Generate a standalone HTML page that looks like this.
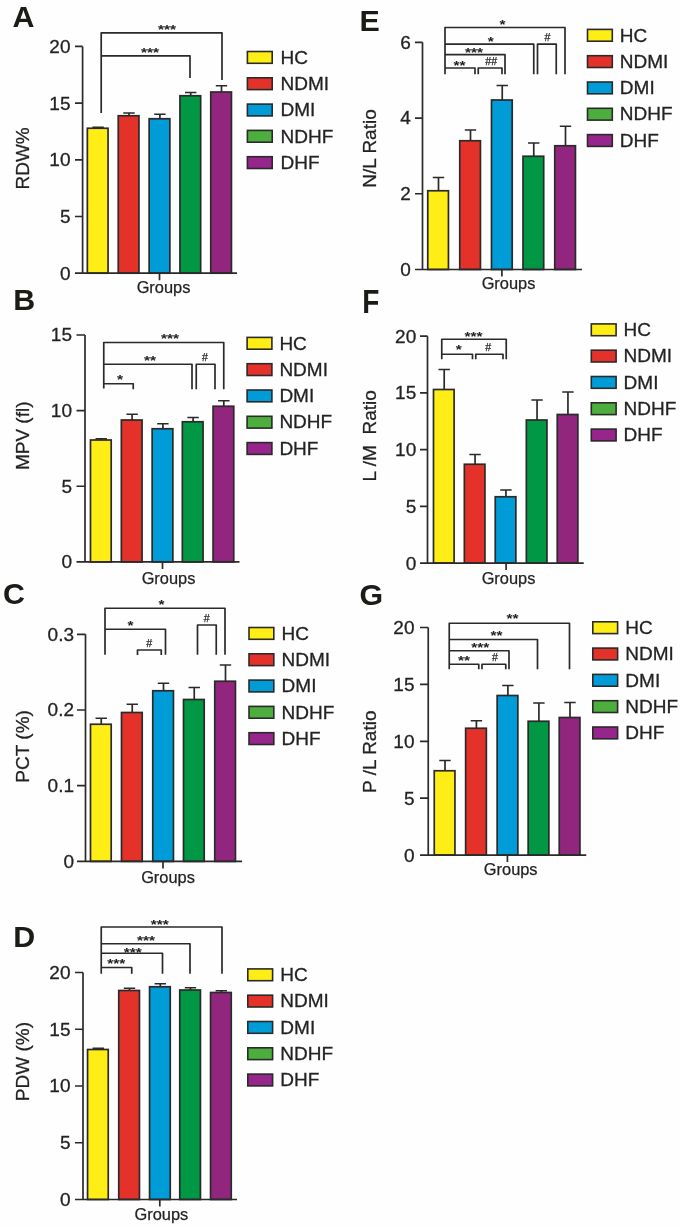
<!DOCTYPE html>
<html><head><meta charset="utf-8"><title>Figure</title>
<style>
html,body{margin:0;padding:0;background:#fefefe}
svg{display:block}
text{font-family:"Liberation Sans",Arial,sans-serif;fill:#222120}
.L{font-weight:bold;font-size:29.5px;fill:#1b1a19}
.t{font-size:19.0px;stroke:#2B2A29;stroke-width:.3px}
.g{font-size:16.4px;stroke:#2B2A29;stroke-width:.25px}
.s{font-size:15.5px;font-weight:bold}
.h{font-size:10.6px;stroke:#2B2A29;stroke-width:0.25px}
.k{fill:none;stroke:#2B2A29;stroke-width:1.7;stroke-linejoin:round}
</style></head><body>
<svg width="681" height="1228" viewBox="0 0 681 1228">
<defs><filter id="soft" x="0" y="0" width="681" height="1228" filterUnits="userSpaceOnUse"><feGaussianBlur stdDeviation="0.5"/></filter></defs>
<rect width="681" height="1228" fill="#fefefe"/>
<g filter="url(#soft)">
<!-- panel A -->
<text class="L" transform="translate(12.5 27.2) scale(1.03 1)">A</text>
<path class="k" d="M98.1 128.25V127.4M92.4 127.4H103.8"/>
<rect x="87.35" y="128.25" width="20.7" height="144.95" fill="#FFED14" stroke="#2B2A29" stroke-width="1.7"/>
<path class="k" d="M129 115.75V113M123.3 113H134.7"/>
<rect x="118.25" y="115.75" width="20.7" height="157.45" fill="#E4322B" stroke="#2B2A29" stroke-width="1.7"/>
<path class="k" d="M159.9 118.75V114.25M154.2 114.25H165.6"/>
<rect x="149.15" y="118.75" width="20.7" height="154.45" fill="#009CD8" stroke="#2B2A29" stroke-width="1.7"/>
<path class="k" d="M190.7 95.75V92.5M185 92.5H196.4"/>
<rect x="179.95" y="95.75" width="20.7" height="177.45" fill="#009845" stroke="#2B2A29" stroke-width="1.7"/>
<path class="k" d="M221.5 92V85.75M215.8 85.75H227.2"/>
<rect x="210.75" y="92" width="20.7" height="181.2" fill="#92287F" stroke="#2B2A29" stroke-width="1.7"/>
<text class="t" text-anchor="end" x="70.5" y="279.6">0</text>
<text class="t" text-anchor="end" x="70.5" y="222.9">5</text>
<text class="t" text-anchor="end" x="70.5" y="166.2">10</text>
<text class="t" text-anchor="end" x="70.5" y="109.5">15</text>
<text class="t" text-anchor="end" x="70.5" y="52.8">20</text>
<path class="k" d="M82.6 46.4V273.2M75 273.2H237M75 216.5H82.6M75 159.8H82.6M75 103.1H82.6M75 46.4H82.6M159.5 273.2V280.2"/>
<text class="g" text-anchor="middle" x="163.5" y="293">Groups</text>
<text class="t" text-anchor="middle" transform="translate(29.3 158.4) rotate(-90)">RDW%</text>
<path class="k" d="M101.2 113.1V32.8H222V80.1"/>
<text class="s" text-anchor="middle" transform="translate(167 27) scale(1 .86)" y="7.7">***</text>
<path class="k" d="M101.2 55.8H190V78.1"/>
<text class="s" text-anchor="middle" transform="translate(150 50) scale(1 .86)" y="7.7">***</text>
<rect x="247.4" y="51.5" width="24.8" height="11.8" fill="#FFED14" stroke="#2B2A29" stroke-width="1.6"/>
<text class="t" x="280.5" y="63.6">HC</text>
<rect x="247.4" y="77.8" width="24.8" height="11.8" fill="#E4322B" stroke="#2B2A29" stroke-width="1.6"/>
<text class="t" x="280.5" y="89.9">NDMI</text>
<rect x="247.4" y="104.1" width="24.8" height="11.8" fill="#009CD8" stroke="#2B2A29" stroke-width="1.6"/>
<text class="t" x="280.5" y="116.2">DMI</text>
<rect x="247.4" y="130.4" width="24.8" height="11.8" fill="#4CAE3C" stroke="#2B2A29" stroke-width="1.6"/>
<text class="t" x="280.5" y="142.5">NDHF</text>
<rect x="247.4" y="156.7" width="24.8" height="11.8" fill="#97278C" stroke="#2B2A29" stroke-width="1.6"/>
<text class="t" x="280.5" y="168.8">DHF</text>
<!-- panel B -->
<text class="L" transform="translate(13.3 309.8) scale(1.03 1)">B</text>
<path class="k" d="M101.25 440V438.75M95.55 438.75H106.95"/>
<rect x="90.5" y="440" width="20.7" height="121.9" fill="#FFED14" stroke="#2B2A29" stroke-width="1.7"/>
<path class="k" d="M132.1 420V414.25M126.4 414.25H137.8"/>
<rect x="121.35" y="420" width="20.7" height="141.9" fill="#E4322B" stroke="#2B2A29" stroke-width="1.7"/>
<path class="k" d="M162.9 428.75V423.75M157.2 423.75H168.6"/>
<rect x="152.15" y="428.75" width="20.7" height="133.15" fill="#009CD8" stroke="#2B2A29" stroke-width="1.7"/>
<path class="k" d="M193.1 421.75V417.5M187.4 417.5H198.8"/>
<rect x="182.35" y="421.75" width="20.7" height="140.15" fill="#009845" stroke="#2B2A29" stroke-width="1.7"/>
<path class="k" d="M223.8 406.25V400.75M218.1 400.75H229.5"/>
<rect x="213.05" y="406.25" width="20.7" height="155.65" fill="#92287F" stroke="#2B2A29" stroke-width="1.7"/>
<text class="t" text-anchor="end" x="72" y="568.3">0</text>
<text class="t" text-anchor="end" x="72" y="492.67">5</text>
<text class="t" text-anchor="end" x="72" y="417.03">10</text>
<text class="t" text-anchor="end" x="72" y="341.4">15</text>
<path class="k" d="M85 335V561.9M76.5 561.9H239.5M76.5 486.27H85M76.5 410.63H85M76.5 335H85M162.5 561.9V568.9"/>
<text class="g" text-anchor="middle" x="168.5" y="584">Groups</text>
<text class="t" text-anchor="middle" transform="translate(29.1 435.8) rotate(-90)">MPV (fl)</text>
<path class="k" d="M103.75 388.6V342.5H223.75V389.35"/>
<text class="s" text-anchor="middle" transform="translate(170 336.5) scale(1 .86)" y="7.7">***</text>
<path class="k" d="M103.75 364.25H192V389.35"/>
<text class="s" text-anchor="middle" transform="translate(150 358) scale(1 .86)" y="7.7">**</text>
<path class="k" d="M103.75 383.75H133.25V389.35"/>
<text class="s" text-anchor="middle" transform="translate(120 377.5) scale(1 .86)" y="7.7">*</text>
<path class="k" d="M196.25 389.35V364.25H215V389.35"/>
<text class="h" text-anchor="middle" x="205" y="360.8">#</text>
<rect x="247.1" y="337.4" width="24.8" height="11.8" fill="#FFED14" stroke="#2B2A29" stroke-width="1.6"/>
<text class="t" x="279.4" y="349.5">HC</text>
<rect x="247.1" y="363.7" width="24.8" height="11.8" fill="#E4322B" stroke="#2B2A29" stroke-width="1.6"/>
<text class="t" x="279.4" y="375.8">NDMI</text>
<rect x="247.1" y="390" width="24.8" height="11.8" fill="#009CD8" stroke="#2B2A29" stroke-width="1.6"/>
<text class="t" x="279.4" y="402.1">DMI</text>
<rect x="247.1" y="416.3" width="24.8" height="11.8" fill="#4CAE3C" stroke="#2B2A29" stroke-width="1.6"/>
<text class="t" x="279.4" y="428.4">NDHF</text>
<rect x="247.1" y="442.6" width="24.8" height="11.8" fill="#97278C" stroke="#2B2A29" stroke-width="1.6"/>
<text class="t" x="279.4" y="454.7">DHF</text>
<!-- panel C -->
<text class="L" transform="translate(3 603.8) scale(1.03 1)">C</text>
<path class="k" d="M101.25 724.25V718.25M95.55 718.25H106.95"/>
<rect x="90.5" y="724.25" width="20.7" height="137.15" fill="#FFED14" stroke="#2B2A29" stroke-width="1.7"/>
<path class="k" d="M132.25 712.5V704.25M126.55 704.25H137.95"/>
<rect x="121.5" y="712.5" width="20.7" height="148.9" fill="#E4322B" stroke="#2B2A29" stroke-width="1.7"/>
<path class="k" d="M163.5 690.75V683.25M157.8 683.25H169.2"/>
<rect x="152.75" y="690.75" width="20.7" height="170.65" fill="#009CD8" stroke="#2B2A29" stroke-width="1.7"/>
<path class="k" d="M194.25 699.5V687.5M188.55 687.5H199.95"/>
<rect x="183.5" y="699.5" width="20.7" height="161.9" fill="#009845" stroke="#2B2A29" stroke-width="1.7"/>
<path class="k" d="M225.5 681.25V665M219.8 665H231.2"/>
<rect x="214.75" y="681.25" width="20.7" height="180.15" fill="#92287F" stroke="#2B2A29" stroke-width="1.7"/>
<text class="t" text-anchor="end" x="74" y="867.8">0</text>
<text class="t" text-anchor="end" x="74" y="792.1">0.1</text>
<text class="t" text-anchor="end" x="74" y="716.4">0.2</text>
<text class="t" text-anchor="end" x="74" y="640.7">0.3</text>
<path class="k" d="M85.5 634.3V861.4M77 861.4H242M77 785.7H85.5M77 710H85.5M77 634.3H85.5M163 861.4V868.4"/>
<text class="g" text-anchor="middle" x="168" y="883">Groups</text>
<text class="t" text-anchor="middle" transform="translate(28.9 746.4) rotate(-90)">PCT (%)</text>
<path class="k" d="M105 654.85V608.25H225V654.85"/>
<text class="s" text-anchor="middle" transform="translate(161.5 602.5) scale(1 .86)" y="7.7">*</text>
<path class="k" d="M105 629.25H165.5V654.85"/>
<text class="s" text-anchor="middle" transform="translate(130.5 623.75) scale(1 .86)" y="7.7">*</text>
<path class="k" d="M137.5 655.1V650H161.25V655.1"/>
<text class="h" text-anchor="middle" x="149.25" y="647.05">#</text>
<path class="k" d="M197.5 654.85V625H216.25V654.85"/>
<text class="h" text-anchor="middle" x="206.75" y="622.05">#</text>
<rect x="249" y="627.5" width="24.8" height="11.8" fill="#FFED14" stroke="#2B2A29" stroke-width="1.6"/>
<text class="t" x="281.6" y="639.6">HC</text>
<rect x="249" y="653.8" width="24.8" height="11.8" fill="#E4322B" stroke="#2B2A29" stroke-width="1.6"/>
<text class="t" x="281.6" y="665.9">NDMI</text>
<rect x="249" y="680.1" width="24.8" height="11.8" fill="#009CD8" stroke="#2B2A29" stroke-width="1.6"/>
<text class="t" x="281.6" y="692.2">DMI</text>
<rect x="249" y="706.4" width="24.8" height="11.8" fill="#4CAE3C" stroke="#2B2A29" stroke-width="1.6"/>
<text class="t" x="281.6" y="718.5">NDHF</text>
<rect x="249" y="732.7" width="24.8" height="11.8" fill="#97278C" stroke="#2B2A29" stroke-width="1.6"/>
<text class="t" x="281.6" y="744.8">DHF</text>
<!-- panel D -->
<text class="L" transform="translate(13.3 947.2) scale(1.03 1)">D</text>
<path class="k" d="M98.3 1049.5V1048.25M92.6 1048.25H104"/>
<rect x="87.55" y="1049.5" width="20.7" height="150" fill="#FFED14" stroke="#2B2A29" stroke-width="1.7"/>
<path class="k" d="M129.5 990.5V988.25M123.8 988.25H135.2"/>
<rect x="118.75" y="990.5" width="20.7" height="209" fill="#E4322B" stroke="#2B2A29" stroke-width="1.7"/>
<path class="k" d="M160.3 986.75V983.75M154.6 983.75H166"/>
<rect x="149.55" y="986.75" width="20.7" height="212.75" fill="#009CD8" stroke="#2B2A29" stroke-width="1.7"/>
<path class="k" d="M190.5 990V987.75M184.8 987.75H196.2"/>
<rect x="179.75" y="990" width="20.7" height="209.5" fill="#009845" stroke="#2B2A29" stroke-width="1.7"/>
<path class="k" d="M221.3 992.5V990.75M215.6 990.75H227"/>
<rect x="210.55" y="992.5" width="20.7" height="207" fill="#92287F" stroke="#2B2A29" stroke-width="1.7"/>
<text class="t" text-anchor="end" x="70.5" y="1205.9">0</text>
<text class="t" text-anchor="end" x="70.5" y="1149.15">5</text>
<text class="t" text-anchor="end" x="70.5" y="1092.4">10</text>
<text class="t" text-anchor="end" x="70.5" y="1035.65">15</text>
<text class="t" text-anchor="end" x="70.5" y="978.9">20</text>
<path class="k" d="M83 972.5V1199.5M75 1199.5H237M75 1142.75H83M75 1086H83M75 1029.25H83M75 972.5H83M159.8 1199.5V1206.5"/>
<text class="g" text-anchor="middle" x="161.4" y="1219.8">Groups</text>
<text class="t" text-anchor="middle" transform="translate(28.9 1061.6) rotate(-90)">PDW (%)</text>
<path class="k" d="M101.25 973.85V927H222V973.85"/>
<text class="s" text-anchor="middle" transform="translate(159.75 922) scale(1 .86)" y="7.7">***</text>
<path class="k" d="M101.25 943.75H190V973.85"/>
<text class="s" text-anchor="middle" transform="translate(146 938.75) scale(1 .86)" y="7.7">***</text>
<path class="k" d="M101.25 953.25H162.5V973.85"/>
<text class="s" text-anchor="middle" transform="translate(132.75 950) scale(1 .86)" y="7.7">***</text>
<path class="k" d="M101.25 967.5H131.75V973.85"/>
<text class="s" text-anchor="middle" transform="translate(116.25 961.25) scale(1 .86)" y="7.7">***</text>
<rect x="247.8" y="968.9" width="24.8" height="11.8" fill="#FFED14" stroke="#2B2A29" stroke-width="1.6"/>
<text class="t" x="280.35" y="981">HC</text>
<rect x="247.8" y="995.2" width="24.8" height="11.8" fill="#E4322B" stroke="#2B2A29" stroke-width="1.6"/>
<text class="t" x="280.35" y="1007.3">NDMI</text>
<rect x="247.8" y="1021.5" width="24.8" height="11.8" fill="#009CD8" stroke="#2B2A29" stroke-width="1.6"/>
<text class="t" x="280.35" y="1033.6">DMI</text>
<rect x="247.8" y="1047.8" width="24.8" height="11.8" fill="#4CAE3C" stroke="#2B2A29" stroke-width="1.6"/>
<text class="t" x="280.35" y="1059.9">NDHF</text>
<rect x="247.8" y="1074.1" width="24.8" height="11.8" fill="#97278C" stroke="#2B2A29" stroke-width="1.6"/>
<text class="t" x="280.35" y="1086.2">DHF</text>
<!-- panel E -->
<text class="L" transform="translate(359.4 31.2) scale(1.03 1)">E</text>
<path class="k" d="M438.5 190.75V177.5M432.8 177.5H444.2"/>
<rect x="427.75" y="190.75" width="20.7" height="78.75" fill="#FFED14" stroke="#2B2A29" stroke-width="1.7"/>
<path class="k" d="M470.5 140.75V130M464.8 130H476.2"/>
<rect x="459.75" y="140.75" width="20.7" height="128.75" fill="#E4322B" stroke="#2B2A29" stroke-width="1.7"/>
<path class="k" d="M502.25 100V85.5M496.55 85.5H507.95"/>
<rect x="491.5" y="100" width="20.7" height="169.5" fill="#009CD8" stroke="#2B2A29" stroke-width="1.7"/>
<path class="k" d="M533.75 156.25V143M528.05 143H539.45"/>
<rect x="523" y="156.25" width="20.7" height="113.25" fill="#009845" stroke="#2B2A29" stroke-width="1.7"/>
<path class="k" d="M565.5 145.75V126.25M559.8 126.25H571.2"/>
<rect x="554.75" y="145.75" width="20.7" height="123.75" fill="#92287F" stroke="#2B2A29" stroke-width="1.7"/>
<text class="t" text-anchor="end" x="410.75" y="275.9">0</text>
<text class="t" text-anchor="end" x="410.75" y="200.17">2</text>
<text class="t" text-anchor="end" x="410.75" y="124.43">4</text>
<text class="t" text-anchor="end" x="410.75" y="48.7">6</text>
<path class="k" d="M422.5 42.3V269.5M415 269.5H582M415 193.77H422.5M415 118.03H422.5M415 42.3H422.5M501.9 269.5V276.5"/>
<text class="g" text-anchor="middle" x="508.5" y="288.6">Groups</text>
<text class="t" text-anchor="middle" transform="translate(376.1 148.5) rotate(-90)">N/L Ratio</text>
<path class="k" d="M445 74.35V27.5H565V74.35"/>
<text class="s" text-anchor="middle" transform="translate(502.5 22.5) scale(1 .86)" y="7.7">*</text>
<path class="k" d="M445 44.2H533.75V74.35"/>
<text class="s" text-anchor="middle" transform="translate(490.75 39.6) scale(1 .86)" y="7.7">*</text>
<path class="k" d="M445 54.6H505V74.35"/>
<text class="s" text-anchor="middle" transform="translate(474 50.4) scale(1 .86)" y="7.7">***</text>
<path class="k" d="M445 68H475V74.35"/>
<text class="s" text-anchor="middle" transform="translate(459.5 63.25) scale(1 .86)" y="7.7">**</text>
<path class="k" d="M478.25 74.35V68H502V74.35"/>
<text class="h" text-anchor="middle" x="491.25" y="64.55">##</text>
<path class="k" d="M537.5 74.35V44.2H556.25V74.35"/>
<text class="h" text-anchor="middle" x="547.5" y="41.3">#</text>
<rect x="587.5" y="29.4" width="24.8" height="11.8" fill="#FFED14" stroke="#2B2A29" stroke-width="1.6"/>
<text class="t" x="619.85" y="41.5">HC</text>
<rect x="587.5" y="55.7" width="24.8" height="11.8" fill="#E4322B" stroke="#2B2A29" stroke-width="1.6"/>
<text class="t" x="619.85" y="67.8">NDMI</text>
<rect x="587.5" y="82" width="24.8" height="11.8" fill="#009CD8" stroke="#2B2A29" stroke-width="1.6"/>
<text class="t" x="619.85" y="94.1">DMI</text>
<rect x="587.5" y="108.3" width="24.8" height="11.8" fill="#4CAE3C" stroke="#2B2A29" stroke-width="1.6"/>
<text class="t" x="619.85" y="120.4">NDHF</text>
<rect x="587.5" y="134.6" width="24.8" height="11.8" fill="#97278C" stroke="#2B2A29" stroke-width="1.6"/>
<text class="t" x="619.85" y="146.7">DHF</text>
<!-- panel F -->
<text class="L" transform="translate(362.2 312.6) scale(0.95 1.12)">F</text>
<path class="k" d="M444.2 389.5V369.5M438.5 369.5H449.9"/>
<rect x="433.5" y="389.5" width="20.6" height="173.6" fill="#FFED14" stroke="#2B2A29" stroke-width="1.7"/>
<path class="k" d="M475.05 464.25V454.5M469.35 454.5H480.75"/>
<rect x="464.35" y="464.25" width="20.6" height="98.85" fill="#E4322B" stroke="#2B2A29" stroke-width="1.7"/>
<path class="k" d="M505.95 496.75V490M500.25 490H511.65"/>
<rect x="495.25" y="496.75" width="20.6" height="66.35" fill="#009CD8" stroke="#2B2A29" stroke-width="1.7"/>
<path class="k" d="M537.05 420V400M531.35 400H542.75"/>
<rect x="526.35" y="420" width="20.6" height="143.1" fill="#009845" stroke="#2B2A29" stroke-width="1.7"/>
<path class="k" d="M567.95 414.5V392M562.25 392H573.65"/>
<rect x="557.25" y="414.5" width="20.6" height="148.6" fill="#92287F" stroke="#2B2A29" stroke-width="1.7"/>
<text class="t" text-anchor="end" x="416.25" y="569.5">0</text>
<text class="t" text-anchor="end" x="416.25" y="512.77">5</text>
<text class="t" text-anchor="end" x="416.25" y="456.05">10</text>
<text class="t" text-anchor="end" x="416.25" y="399.32">15</text>
<text class="t" text-anchor="end" x="416.25" y="342.6">20</text>
<path class="k" d="M427.5 336.2V563.1M420 563.1H583.75M420 506.38H427.5M420 449.65H427.5M420 392.93H427.5M420 336.2H427.5M506.1 563.1V570.1"/>
<text class="g" text-anchor="middle" x="508.5" y="583.5">Groups</text>
<text class="t" text-anchor="middle" transform="translate(375.9 435.8) rotate(-90)">L /M&#160;&#160;Ratio</text>
<path class="k" d="M441.75 359.35V339.25H506.25V359.35"/>
<text class="s" text-anchor="middle" transform="translate(473.5 334.5) scale(1 .86)" y="7.7">***</text>
<path class="k" d="M441.75 354.25H472.5V359.35"/>
<text class="s" text-anchor="middle" transform="translate(458.75 347.5) scale(1 .86)" y="7.7">*</text>
<path class="k" d="M475.75 359.35V354.25H503V359.35"/>
<text class="h" text-anchor="middle" x="488.25" y="351.3">#</text>
<rect x="591.3" y="323.9" width="24.8" height="11.8" fill="#FFED14" stroke="#2B2A29" stroke-width="1.6"/>
<text class="t" x="623.6" y="336">HC</text>
<rect x="591.3" y="350.2" width="24.8" height="11.8" fill="#E4322B" stroke="#2B2A29" stroke-width="1.6"/>
<text class="t" x="623.6" y="362.3">NDMI</text>
<rect x="591.3" y="376.5" width="24.8" height="11.8" fill="#009CD8" stroke="#2B2A29" stroke-width="1.6"/>
<text class="t" x="623.6" y="388.6">DMI</text>
<rect x="591.3" y="402.8" width="24.8" height="11.8" fill="#4CAE3C" stroke="#2B2A29" stroke-width="1.6"/>
<text class="t" x="623.6" y="414.9">NDHF</text>
<rect x="591.3" y="429.1" width="24.8" height="11.8" fill="#97278C" stroke="#2B2A29" stroke-width="1.6"/>
<text class="t" x="623.6" y="441.2">DHF</text>
<!-- panel G -->
<text class="L" transform="translate(359.4 604.8) scale(1.03 1)">G</text>
<path class="k" d="M445 770.75V760.5M439.3 760.5H450.7"/>
<rect x="434.25" y="770.75" width="20.7" height="84.35" fill="#FFED14" stroke="#2B2A29" stroke-width="1.7"/>
<path class="k" d="M476.4 728.25V720.75M470.7 720.75H482.1"/>
<rect x="465.65" y="728.25" width="20.7" height="126.85" fill="#E4322B" stroke="#2B2A29" stroke-width="1.7"/>
<path class="k" d="M507.9 695.5V685.5M502.2 685.5H513.6"/>
<rect x="497.15" y="695.5" width="20.7" height="159.6" fill="#009CD8" stroke="#2B2A29" stroke-width="1.7"/>
<path class="k" d="M538.9 721.25V703M533.2 703H544.6"/>
<rect x="528.15" y="721.25" width="20.7" height="133.85" fill="#009845" stroke="#2B2A29" stroke-width="1.7"/>
<path class="k" d="M570 717.5V702.5M564.3 702.5H575.7"/>
<rect x="559.25" y="717.5" width="20.7" height="137.6" fill="#92287F" stroke="#2B2A29" stroke-width="1.7"/>
<text class="t" text-anchor="end" x="414.5" y="861.5">0</text>
<text class="t" text-anchor="end" x="414.5" y="804.6">5</text>
<text class="t" text-anchor="end" x="414.5" y="747.7">10</text>
<text class="t" text-anchor="end" x="414.5" y="690.8">15</text>
<text class="t" text-anchor="end" x="414.5" y="633.9">20</text>
<path class="k" d="M428.25 627.5V855.1M420 855.1H586.25M420 798.2H428.25M420 741.3H428.25M420 684.4H428.25M420 627.5H428.25M507.4 855.1V862.1"/>
<text class="g" text-anchor="middle" x="510.7" y="874.9">Groups</text>
<text class="t" text-anchor="middle" transform="translate(375.9 751.7) rotate(-90)">P /L Ratio</text>
<path class="k" d="M449.25 669.35V623.25H569.5V669.35"/>
<text class="s" text-anchor="middle" transform="translate(512.5 616) scale(1 .86)" y="7.7">**</text>
<path class="k" d="M449.25 639.5H537.5V669.35"/>
<text class="s" text-anchor="middle" transform="translate(496.5 633.25) scale(1 .86)" y="7.7">**</text>
<path class="k" d="M449.25 650.75H509V669.35"/>
<text class="s" text-anchor="middle" transform="translate(480.25 645.75) scale(1 .86)" y="7.7">***</text>
<path class="k" d="M449.25 664.25H478.75V669.35"/>
<text class="s" text-anchor="middle" transform="translate(464 658.25) scale(1 .86)" y="7.7">**</text>
<path class="k" d="M482 669.35V664.25H505.75V669.35"/>
<text class="h" text-anchor="middle" x="495" y="661.3">#</text>
<rect x="592.8" y="621.8" width="24.8" height="11.8" fill="#FFED14" stroke="#2B2A29" stroke-width="1.6"/>
<text class="t" x="625.35" y="633.9">HC</text>
<rect x="592.8" y="648.1" width="24.8" height="11.8" fill="#E4322B" stroke="#2B2A29" stroke-width="1.6"/>
<text class="t" x="625.35" y="660.2">NDMI</text>
<rect x="592.8" y="674.4" width="24.8" height="11.8" fill="#009CD8" stroke="#2B2A29" stroke-width="1.6"/>
<text class="t" x="625.35" y="686.5">DMI</text>
<rect x="592.8" y="700.7" width="24.8" height="11.8" fill="#4CAE3C" stroke="#2B2A29" stroke-width="1.6"/>
<text class="t" x="625.35" y="712.8">NDHF</text>
<rect x="592.8" y="727" width="24.8" height="11.8" fill="#97278C" stroke="#2B2A29" stroke-width="1.6"/>
<text class="t" x="625.35" y="739.1">DHF</text>
</g>
</svg>
</body></html>
